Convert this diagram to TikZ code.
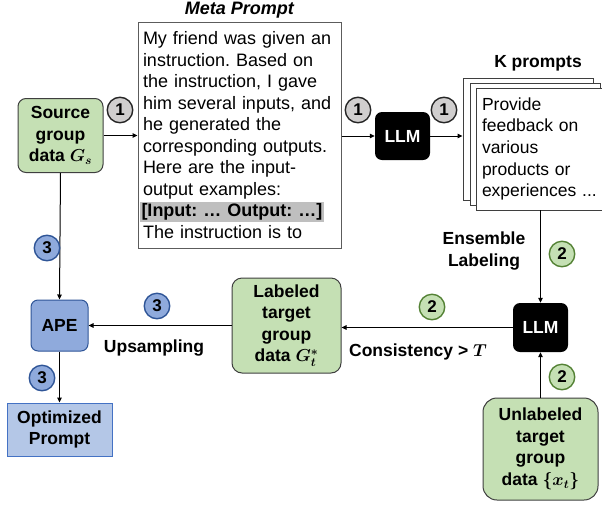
\documentclass[tikz,border=0pt]{standalone}
\usepackage{fontspec}
\usepackage{bm}
\setmainfont{Liberation Sans}
\usetikzlibrary{arrows.meta}
\definecolor{grnfill}{HTML}{C5E0B4}
\definecolor{grnline}{HTML}{548235}
\definecolor{bluefill}{HTML}{8FAADC}
\definecolor{blueline}{HTML}{2F5597}
\definecolor{lblue}{HTML}{B4C7E7}
\definecolor{lblueline}{HTML}{4472C4}
\definecolor{grayfill}{HTML}{D0CECE}
\definecolor{grayline}{HTML}{262626}
\definecolor{hlgray}{HTML}{BFBFBF}
\definecolor{edgegray}{HTML}{3F3F3F}
\newcommand{\bigtxt}{\fontsize{18}{21.5}\selectfont}

\begin{document}
\frenchspacing
\begin{tikzpicture}[x=1pt, y=-1pt,
	every node/.style={font=\bfseries\fontsize{17.5}{21.5}\selectfont},
	databox/.style={draw=edgegray, fill=grnfill, line width=1pt, rounded corners=8pt, align=center, inner sep=0pt},
	llmbox/.style={fill=black, text=white, rounded corners=7pt, minimum width=55pt, minimum height=48pt, inner sep=0pt},
	page/.style={draw=edgegray, fill=white, line width=0.9pt, minimum width=130pt, minimum height=122pt, inner sep=0pt},
	badge/.style={circle, draw=#1line, fill=#1fill, line width=1.4pt, minimum size=25.5pt, inner sep=0pt, font=\bfseries\fontsize{17}{17}\selectfont},
	flow/.style={line width=1pt, -{Triangle[length=5pt,width=4.5pt]}}]
\useasboundingbox (0,0) rectangle (602,504);

\node[draw=edgegray!85, line width=1pt, minimum width=203pt, minimum height=226pt, text width=193pt, inner sep=5pt, align=left, font=\bigtxt] (meta) at (239.5,135)
	{My friend was given an\\ instruction. Based on\\ the instruction, I gave\\ him several inputs, and\\ he generated the\\ corresponding outputs.\\ Here are the input-\\ output examples:\\ {\setlength{\fboxsep}{1.5pt}\hspace*{-3pt}\colorbox{hlgray}{\textbf{[Input: … Output: …]}}}\\ The instruction is to};
\node[font=\bfseries\itshape\bigtxt] (metatitle) at (239.5,10) {Meta Prompt};

\node[databox, minimum width=85pt, minimum height=74pt] (src) at (60.5,135.5) {Source\\ group\\ data $\bm{G_s}$};
\node[llmbox] (llmA) at (402.5,136) {LLM};

\node[page] (kback) at (528,139) {};
\node[page] (kmid) at (535,144) {};
\node[page, text width=118pt, inner xsep=6pt, align=left, font=\fontsize{17.5}{21.7}\selectfont] (kfront) at (541,149) {Provide\\ feedback on\\ various\\ products or\\ experiences ...};
\node (ktitle) at (538,63) {K prompts};

\node[llmbox, minimum height=49pt] (llmB) at (540.5,327.5) {LLM};
\node[databox, rounded corners=10pt, minimum width=109pt, minimum height=95pt] (lab) at (286.5,325.5) {Labeled\\ target\\ group\\ data $\bm{G_t^*}$};
\node[draw=blueline, fill=bluefill, line width=1pt, rounded corners=7pt, minimum width=57pt, minimum height=51pt] (ape) at (59.5,325.5) {APE};
\node[draw=lblueline, fill=lblue, line width=1pt, minimum width=105pt, minimum height=53pt, align=center, inner sep=0pt] (opt) at (59.5,429.5) {Optimized\\ Prompt};
\node[databox, rounded corners=14pt, minimum width=115pt, minimum height=102pt] (unl) at (540.5,449) {Unlabeled\\ target\\ group\\ data $\bm{\{x_t\}}$};

\node[align=center] (ens) at (484,251) {Ensemble\\ Labeling};
\node (cons) at (418,352) {Consistency > $\bm{T}$};
\node (ups) at (154,348) {Upsampling};

\draw[flow] (src.east) -- (src.east -| meta.west);
\draw[flow] (llmA.west -| meta.east) -- (llmA.west);
\draw[flow] (llmA.east) -- (llmA.east -| kback.west);
\draw[flow] (llmB.north |- kfront.south) -- (llmB.north);
\draw[flow] (llmB.west) -- (llmB.west -| lab.east);
\draw[flow] (lab.west) -- (lab.west -| ape.east);
\draw[flow] (src.south) -- (ape.north);
\draw[flow] (ape.south) -- (opt.north);
\draw[flow] (unl.north) -- (llmB.south);

\foreach \n/\c/\x/\y [count=\i] in {1/gray/120/110, 1/gray/358/110, 1/gray/444/110,
	2/grn/562/254, 2/grn/432/307, 2/grn/562/377,
	3/blue/47/248, 3/blue/157/306, 3/blue/42/378}
	\node[badge=\c] (step\i) at (\x,\y) {\n};
\end{tikzpicture}
\end{document}
